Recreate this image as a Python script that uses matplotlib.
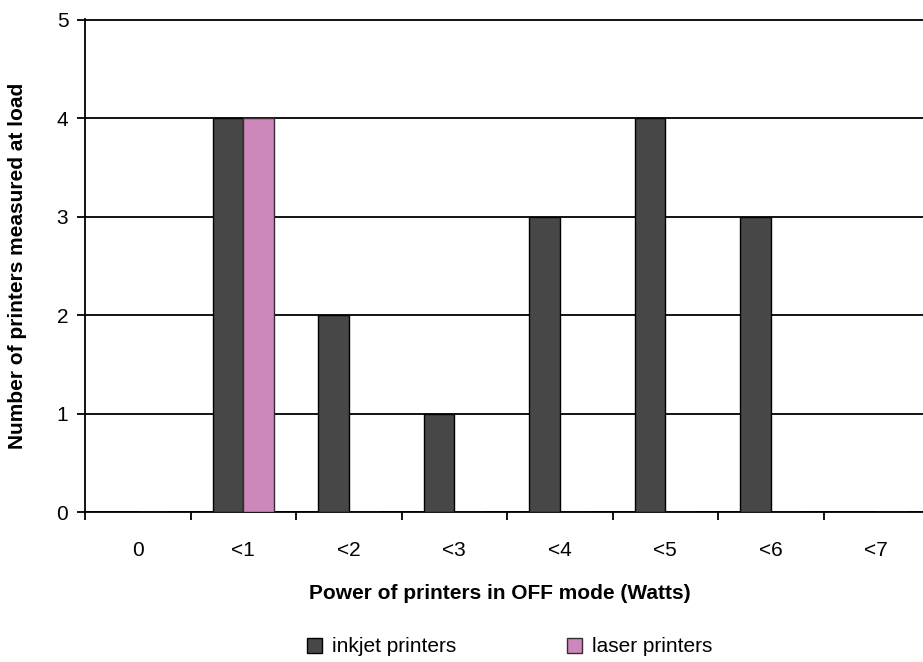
import numpy as np
import matplotlib.pyplot as plt
from matplotlib import font_manager

# Printer power in OFF mode, counts per bin
categories = ["0", "<1", "<2", "<3", "<4", "<5", "<6", "<7"]
inkjet = [0, 4, 2, 1, 3, 4, 3, 0]
laser = [0, 4, 0, 0, 0, 0, 0, 0]

names = {f.name for f in font_manager.fontManager.ttflist}
family = "Liberation Sans Narrow" if "Liberation Sans Narrow" in names else "Liberation Sans"
plt.rcParams["font.family"] = [family, "DejaVu Sans"]

fig = plt.figure(figsize=(9.23, 6.62), dpi=100)
ax = fig.add_axes([85 / 923, 1 - 512 / 662, 844 / 923, 493 / 662])

x = np.arange(len(categories))
w = 0.29
ax.bar(x - w / 2, inkjet, w, color="#474747", edgecolor="black", linewidth=1,
       label="inkjet printers", zorder=3)
ax.bar(x + w / 2, laser, w, color="#cc88bb", edgecolor="#3a2a35", linewidth=1,
       label="laser printers", zorder=3)

ax.set_xlim(-0.5, len(categories) - 0.5)
ax.set_ylim(0, 5.01)
ax.set_yticks(range(6))
ax.yaxis.grid(True, color="black", linewidth=1.3, zorder=0)
for s in ["top", "right"]:
    ax.spines[s].set_visible(False)
ax.spines["left"].set_linewidth(1.3)
ax.spines["bottom"].set_linewidth(1.3)

# boundary ticks as major, labels on minor ticks at centres
ax.set_xticks(np.arange(len(categories) + 1) - 0.5)
ax.set_xticklabels([])
ax.set_xticks(x, minor=True)
ax.set_xticklabels(categories, minor=True)
ax.tick_params(axis="x", which="major", direction="out", length=6, width=1.3)
ax.tick_params(axis="x", which="minor", length=0, pad=21, labelsize=15)
ax.tick_params(axis="y", direction="out", length=6, width=1.3, labelsize=15, pad=6)

ax.set_xlabel("Power of printers in OFF mode (Watts)", fontsize=15, fontweight="bold")
ax.xaxis.set_label_coords((500 - 85) / 844, -72 / 493)
ax.set_ylabel("Number of printers measured at load", fontsize=15, fontweight="bold")
ax.yaxis.set_label_coords(-58 / 844, 0.5)

fig.legend(loc="center", bbox_to_anchor=(510 / 923, 1 - 647 / 662), ncol=2,
           frameon=False, fontsize=15, handlelength=0.7, handleheight=0.7,
           columnspacing=5.3, handletextpad=0.5)

fig.savefig("out.png", dpi=100)
